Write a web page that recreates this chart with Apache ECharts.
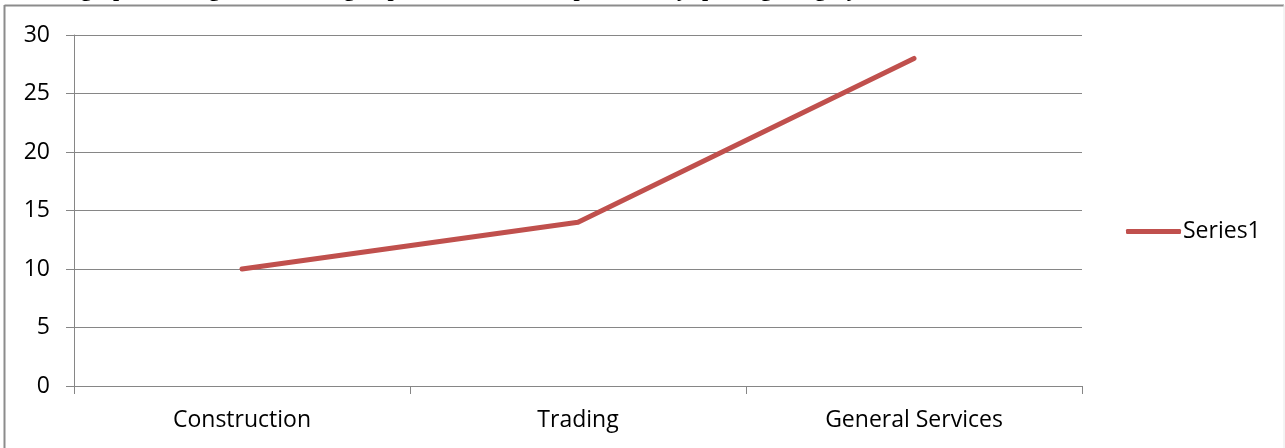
<!DOCTYPE html>
<html>
<head>
<meta charset="utf-8">
<script src="https://cdn.jsdelivr.net/npm/echarts@6/dist/echarts.min.js"></script>
<style>
html,body{margin:0;padding:0;background:#fff;}
#c{width:1285px;height:448px;}
</style>
</head>
<body>
<div id="c"></div>
<script>
const categories = ['Construction', 'Trading', 'General Services'];
const seriesName = 'Series1';
const values = [10, 14, 28];
const yTicks = { min: 0, max: 30, interval: 5 };
const titleText = 'A line graph showing the business group distribution of respondents by sporting category';

const chart = echarts.init(document.getElementById('c'), null, { renderer: 'canvas' });
const grey = '#868686';
const labelFont = { fontFamily: '"Open Sans", sans-serif', fontSize: 23, color: '#000' };

chart.setOption({
  animation: false,
  backgroundColor: '#fff',
  graphic: [
    { type: 'text', left: 20, top: -21, silent: true,
      style: { text: titleText, font: 'bold 22px "Liberation Serif", serif', fill: '#000' } },
    { type: 'line', shape: { x1: 4.5, y1: 5.5, x2: 1284, y2: 5.5 }, style: { stroke: '#8c8c8c', lineWidth: 2 } },
    { type: 'line', shape: { x1: 4.5, y1: 5, x2: 4.5, y2: 448 }, style: { stroke: '#8c8c8c', lineWidth: 2 } },
    { type: 'line', shape: { x1: 1284, y1: 5, x2: 1284, y2: 448 }, style: { stroke: '#e8e8e8', lineWidth: 1 } }
  ],
  grid: { left: 74, right: 203, top: 35, bottom: 62, containLabel: false },
  legend: {
    data: [{ name: seriesName, icon: 'roundRect' }],
    left: 1121, top: 215,
    itemWidth: 55, itemHeight: 5, itemGap: 4,
    itemStyle: { color: '#C0504D', borderWidth: 0 },
    textStyle: { ...labelFont, padding: [0, 0, 0, -3] }
  },
  xAxis: {
    type: 'category',
    data: categories,
    boundaryGap: true,
    axisLine: { show: true, lineStyle: { color: grey, width: 1 } },
    axisTick: { show: true, length: 8, lineStyle: { color: grey } },
    axisLabel: { ...labelFont, margin: 23 },
    splitLine: { show: false }
  },
  yAxis: {
    type: 'value',
    min: yTicks.min, max: yTicks.max, interval: yTicks.interval,
    axisLine: { show: true, lineStyle: { color: grey, width: 1 } },
    axisTick: { show: true, length: 8, lineStyle: { color: grey } },
    axisLabel: { ...labelFont, margin: 24 },
    splitLine: { show: true, lineStyle: { color: grey, width: 1 } }
  },
  series: [{
    name: seriesName,
    type: 'line',
    data: values,
    symbol: 'none',
    color: '#C0504D',
    lineStyle: { color: '#C0504D', width: 5, cap: 'round', join: 'round' }
  }]
});
</script>
</body>
</html>
